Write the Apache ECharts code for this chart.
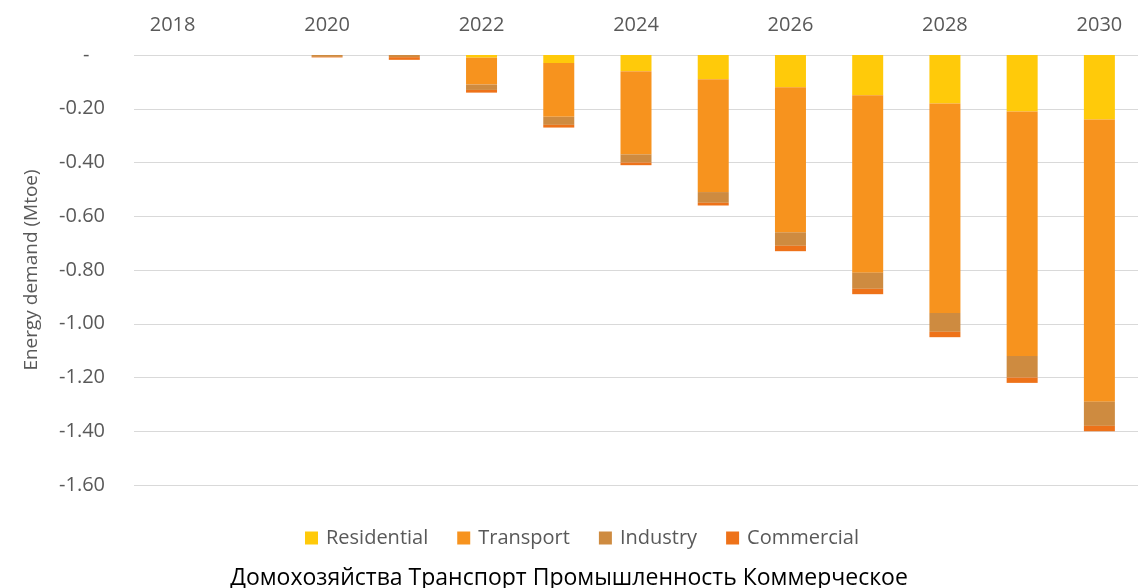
<!DOCTYPE html>
<html>
<head>
<meta charset="utf-8">
<script src="https://cdn.jsdelivr.net/npm/echarts@6/dist/echarts.min.js"></script>
<style>
html,body{margin:0;padding:0;background:#fff;}
#chart{width:1138px;height:588px;}
</style>
</head>
<body>
<div id="chart"></div>
<script>
var years = ['2018','2019','2020','2021','2022','2023','2024','2025','2026','2027','2028','2029','2030'];
var residential = [0, 0, 0, 0, -0.01, -0.03, -0.06, -0.09, -0.12, -0.15, -0.18, -0.21, -0.24];
var transport   = [0, 0, 0, 0, -0.10, -0.20, -0.31, -0.42, -0.54, -0.66, -0.78, -0.91, -1.05];
var industry    = [0, 0, -0.007, -0.008, -0.02, -0.03, -0.03, -0.04, -0.05, -0.06, -0.07, -0.08, -0.09];
var commercial  = [0, 0, -0.002, -0.010, -0.01, -0.01, -0.01, -0.01, -0.02, -0.02, -0.02, -0.02, -0.02];
var seriesNames = ['Residential', 'Transport', 'Industry', 'Commercial'];
var yTicks = {min: -1.6, max: 0, interval: 0.2};
var yAxisTitle = 'Energy demand (Mtoe)';
var bottomTitle = 'Домохозяйства Транспорт Промышленность Коммерческое';

var colors = ['#FFCA0A', '#F7931E', '#CE8B40', '#EE7219'];
var values = [residential, transport, industry, commercial];
var font = '"Open Sans", "Noto Sans", sans-serif';

var chart = echarts.init(document.getElementById('chart'), null, {renderer: 'canvas'});
chart.setOption({
  animation: false,
  color: colors,
  title: {
    text: bottomTitle,
    left: 'center',
    bottom: -7,
    textStyle: {fontFamily: font, fontSize: 23, fontWeight: 'normal', color: '#000'}
  },
  legend: {
    data: seriesNames,
    left: 300,
    top: 523,
    icon: 'rect',
    itemWidth: 13,
    itemHeight: 13,
    itemGap: 29,
    textStyle: {fontFamily: font, fontSize: 20, color: '#595959', padding: [0, 0, 0, 3]}
  },
  grid: {left: 134, top: 55, width: 1017, height: 430, containLabel: false},
  xAxis: {
    type: 'category',
    position: 'top',
    data: years,
    axisLine: {show: false},
    axisTick: {show: false},
    axisLabel: {interval: 1, margin: 20, fontFamily: font, fontSize: 20, color: '#595959'},
    splitLine: {show: false}
  },
  yAxis: {
    type: 'value',
    min: yTicks.min,
    max: yTicks.max,
    interval: yTicks.interval,
    axisLine: {show: false},
    axisTick: {show: false},
    splitLine: {lineStyle: {color: '#D9D9D9', width: 1.2}},
    axisLabel: {
      margin: 29,
      fontFamily: font, fontSize: 20, color: '#595959',
      formatter: function (v) { return Math.abs(v) < 1e-9 ? '-   ' : v.toFixed(2); }
    },
    name: yAxisTitle,
    nameLocation: 'middle',
    nameRotate: 90,
    nameGap: 93,
    nameTextStyle: {fontFamily: font, fontSize: 19, color: '#595959'}
  },
  series: seriesNames.map(function (n, i) {
    return {
      name: n,
      type: 'bar',
      stack: 'total',
      barWidth: 31,
      data: values[i],
      itemStyle: {color: colors[i]}
    };
  })
});
</script>
</body>
</html>
